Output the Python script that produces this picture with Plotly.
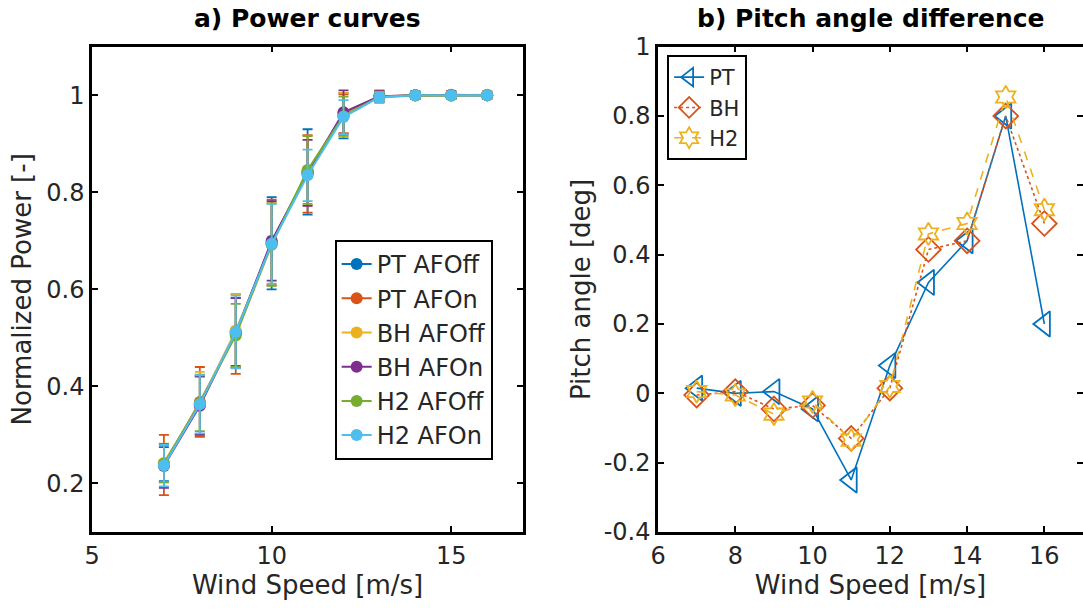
import plotly.graph_objects as go

# ---------------- data ----------------
wind = [7, 8, 9, 10, 11, 12, 13, 14, 15, 16]

series_names = ["PT AFOff", "PT AFOn", "BH AFOff", "BH AFOn", "H2 AFOff", "H2 AFOn"]
power_pt_off = [0.240, 0.362, 0.512, 0.695, 0.842, 0.958, 0.997, 1.000, 1.000, 1.000]
power_pt_on = [0.238, 0.368, 0.508, 0.697, 0.838, 0.962, 0.998, 1.000, 1.001, 1.000]
power_bh_off = [0.242, 0.365, 0.515, 0.693, 0.845, 0.960, 0.996, 0.999, 1.000, 1.001]
power_bh_on = [0.236, 0.360, 0.510, 0.700, 0.840, 0.965, 0.998, 1.000, 1.000, 1.000]
power_h2_off = [0.241, 0.366, 0.505, 0.692, 0.846, 0.957, 0.997, 1.000, 0.999, 1.000]
power_h2_on = [0.237, 0.363, 0.512, 0.694, 0.835, 0.955, 0.996, 1.000, 1.000, 1.000]

err_pt_off = [0.035, 0.060, 0.070, 0.095, 0.088, 0.047, 0.012, 0.008, 0.008, 0.008]
err_pt_on = [0.062, 0.072, 0.082, 0.088, 0.080, 0.040, 0.012, 0.008, 0.008, 0.008]
err_bh_off = [0.040, 0.065, 0.075, 0.085, 0.072, 0.045, 0.010, 0.007, 0.007, 0.007]
err_bh_on = [0.045, 0.060, 0.072, 0.082, 0.068, 0.045, 0.010, 0.007, 0.007, 0.007]
err_h2_off = [0.038, 0.058, 0.065, 0.085, 0.070, 0.040, 0.010, 0.007, 0.007, 0.007]
err_h2_on = [0.043, 0.060, 0.075, 0.082, 0.053, 0.035, 0.010, 0.007, 0.007, 0.007]

pitch_names = ["PT", "BH", "H2"]
pitch_pt = [0.015, 0.000, 0.005, -0.045, -0.250, 0.080, 0.320, 0.440, 0.800, 0.200]
pitch_bh = [-0.005, 0.005, -0.045, -0.035, -0.130, 0.015, 0.415, 0.440, 0.800, 0.490]
pitch_h2 = [0.005, -0.005, -0.060, -0.025, -0.135, 0.020, 0.460, 0.490, 0.855, 0.530]

power_x_ticks = [5, 10, 15]
power_y_ticks = [0.2, 0.4, 0.6, 0.8, 1.0]
power_y_labels = ["0.2", "0.4", "0.6", "0.8", "1"]
pitch_x_ticks = [6, 8, 10, 12, 14, 16]
pitch_y_ticks = [-0.4, -0.2, 0, 0.2, 0.4, 0.6, 0.8, 1.0]
pitch_y_labels = ["-0.4", "-0.2", "0", "0.2", "0.4", "0.6", "0.8", "1"]

# ---------------- styling ----------------
colors = ["#0072BD", "#D95319", "#EDB120", "#7E2F8E", "#77AC30", "#4DBEEE"]
FONT = "DejaVu Sans, Liberation Sans, Arial, sans-serif"
TXT = "#262626"

fig = go.Figure()

power_vals = [power_pt_off, power_pt_on, power_bh_off, power_bh_on, power_h2_off, power_h2_on]
power_errs = [err_pt_off, err_pt_on, err_bh_off, err_bh_on, err_h2_off, err_h2_on]

for name, vals, errs, col in zip(series_names, power_vals, power_errs, colors):
    fig.add_trace(go.Scatter(
        x=wind, y=vals, name=name, mode="lines+markers",
        line=dict(color=col, width=2),
        marker=dict(color=col, size=12, symbol="circle"),
        error_y=dict(type="data", array=errs, visible=True, color=col,
                     thickness=1.8, width=5),
        xaxis="x", yaxis="y", legend="legend",
    ))

pitch_styles = [
    dict(color="#0072BD", dash="solid", symbol="triangle-left-open", size=22),
    dict(color="#D95319", dash="dot", symbol="diamond-open", size=19),
    dict(color="#EDB120", dash="dash", symbol="hexagram-open", size=17),
]
for name, vals, st in zip(pitch_names, [pitch_pt, pitch_bh, pitch_h2], pitch_styles):
    fig.add_trace(go.Scatter(
        x=wind, y=vals, name=name, mode="lines+markers",
        line=dict(color=st["color"], width=1.6, dash=st["dash"]),
        marker=dict(color=st["color"], size=st["size"], symbol=st["symbol"],
                    line=dict(width=1.8, color=st["color"])),
        xaxis="x2", yaxis="y2", legend="legend2",
    ))

ax_common = dict(
    showline=True, linecolor="black", linewidth=2.5, mirror="ticks",
    ticks="inside", ticklen=6, tickwidth=2, tickcolor="black",
    showgrid=False, zeroline=False, automargin=False,
    tickfont=dict(family=FONT, size=24, color=TXT),
    title_font=dict(family=FONT, size=26, color=TXT),
)

fig.update_layout(
    width=1083, height=615,
    margin=dict(l=0, r=0, t=0, b=0),
    paper_bgcolor="white", plot_bgcolor="white",
    font=dict(family=FONT, color=TXT),
    xaxis=dict(domain=[0.085, 0.483], range=[5, 17], tickvals=power_x_ticks,
               title=dict(text="Wind Speed [m/s]", standoff=4), anchor="y", **ax_common),
    yaxis=dict(domain=[0.135, 0.924], range=[0.1, 1.1], tickvals=power_y_ticks,
               ticktext=power_y_labels,
               title=dict(text="Normalized Power [-]", standoff=8), anchor="x", **ax_common),
    xaxis2=dict(domain=[0.6076, 1.0], range=[6, 17], tickvals=pitch_x_ticks,
                title=dict(text="Wind Speed [m/s]", standoff=4), anchor="y2", **ax_common),
    yaxis2=dict(domain=[0.135, 0.924], range=[-0.4, 1.0], tickvals=pitch_y_ticks,
                ticktext=pitch_y_labels,
                title=dict(text="Pitch angle [deg]", standoff=6), anchor="x2", **ax_common),
    legend=dict(x=0.309, y=1 - 240 / 615, xanchor="left", yanchor="top",
                bgcolor="white", bordercolor="black", borderwidth=2,
                font=dict(family=FONT, size=24, color=TXT),
                tracegroupgap=0, itemwidth=30),
    legend2=dict(x=0.616, y=1 - 55 / 615, xanchor="left", yanchor="top",
                 bgcolor="white", bordercolor="black", borderwidth=2,
                 font=dict(family=FONT, size=21, color=TXT), itemwidth=30),
    annotations=[
        dict(text="<b>a) Power curves</b>", x=0.284, y=1 - 18 / 615, xref="paper", yref="paper",
             xanchor="center", yanchor="middle", showarrow=False,
             font=dict(family=FONT, size=25, color="black")),
        dict(text="<b>b) Pitch angle difference</b>", x=0.8038, y=1 - 18 / 615, xref="paper",
             yref="paper", xanchor="center", yanchor="middle", showarrow=False,
             font=dict(family=FONT, size=25, color="black")),
    ],
)

fig.write_html("out.html",
               config={"displayModeBar": False},
               post_script="document.body.style.margin='0';document.body.style.overflow='hidden';")
